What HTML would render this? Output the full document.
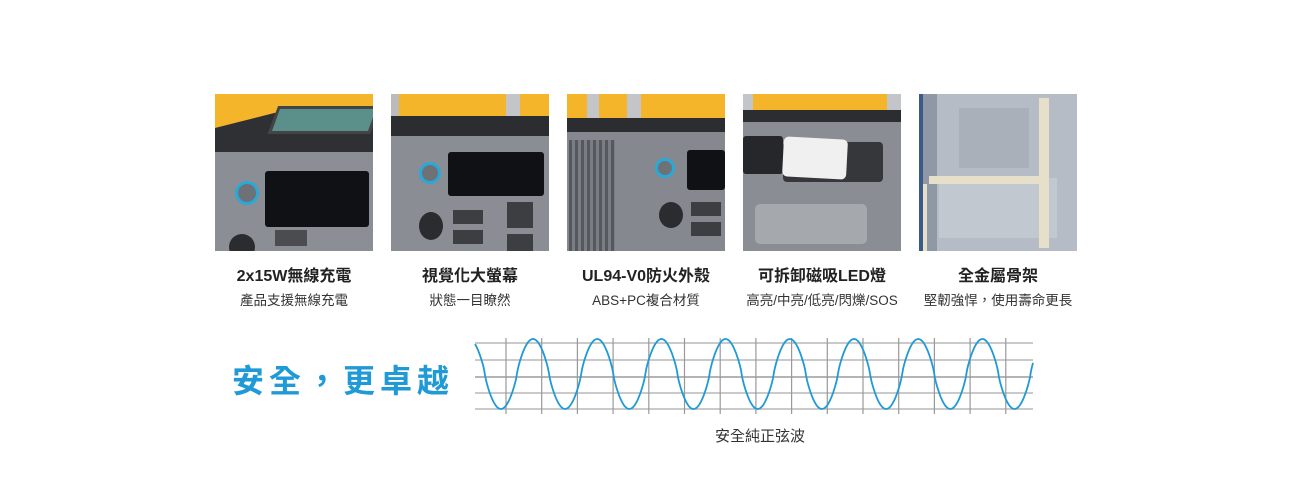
<!DOCTYPE html>
<html><head><meta charset="utf-8"><style>
body{margin:0;width:1290px;height:500px;background:#fff;position:relative;overflow:hidden;font-family:"Liberation Sans","Noto Sans CJK TC",sans-serif;}
.a{position:absolute;}
.img{position:absolute;top:94px;width:158px;height:157px;overflow:hidden;}
.t{position:absolute;width:176px;text-align:center;font-weight:bold;font-size:16px;color:#222;top:262px;}
.s{position:absolute;width:176px;text-align:center;font-size:13.5px;color:#333;top:289px;white-space:nowrap;}
</style></head><body>
<!-- image 1 -->
<div class="img" style="left:215px;background:#f5b52a">
 <div class="a" style="left:0;top:18px;width:158px;height:40px;background:#2e3033;clip-path:polygon(0 40%,40% 0,100% 0,100% 100%,0 100%)"></div>
 <div class="a" style="left:58px;top:12px;width:96px;height:22px;background:#5b8f8a;transform:skewX(-20deg);border:3px solid #444"></div>
 <div class="a" style="left:0;top:58px;width:158px;height:99px;background:#8b8e94"></div>
 <div class="a" style="left:50px;top:77px;width:104px;height:56px;background:#101114;border-radius:3px"></div>
 <div class="a" style="left:20px;top:87px;width:18px;height:18px;border-radius:50%;border:3px solid #2aa8d8;background:#6e7176"></div>
 <div class="a" style="left:14px;top:140px;width:26px;height:26px;border-radius:50%;background:#2b2c2f"></div>
 <div class="a" style="left:60px;top:136px;width:32px;height:16px;background:#4a4c50"></div>
</div>
<!-- image 2 -->
<div class="img" style="left:391px;background:#f5b52a">
 <div class="a" style="left:0;top:0;width:8px;height:30px;background:#bbb"></div>
 <div class="a" style="left:115px;top:0;width:14px;height:30px;background:#c3c5c8"></div>
 <div class="a" style="left:0;top:22px;width:158px;height:20px;background:#2b2d30"></div>
 <div class="a" style="left:0;top:42px;width:158px;height:115px;background:#8a8d93"></div>
 <div class="a" style="left:57px;top:58px;width:96px;height:44px;background:#101114;border-radius:3px"></div>
 <div class="a" style="left:28px;top:68px;width:16px;height:16px;border-radius:50%;border:3px solid #2aa8d8;background:#6e7176"></div>
 <div class="a" style="left:28px;top:118px;width:24px;height:28px;border-radius:50%;background:#2b2c2f"></div>
 <div class="a" style="left:62px;top:116px;width:30px;height:14px;background:#3c3e42"></div>
 <div class="a" style="left:62px;top:136px;width:30px;height:14px;background:#3c3e42"></div>
 <div class="a" style="left:116px;top:108px;width:26px;height:26px;background:#3c3e42"></div>
 <div class="a" style="left:116px;top:140px;width:26px;height:20px;background:#3c3e42"></div>
</div>
<!-- image 3 -->
<div class="img" style="left:567px;background:#f5b52a">
 <div class="a" style="left:20px;top:0;width:12px;height:30px;background:#c3c5c8"></div>
 <div class="a" style="left:60px;top:0;width:14px;height:30px;background:#c3c5c8"></div>
 <div class="a" style="left:0;top:24px;width:158px;height:14px;background:#2b2d30"></div>
 <div class="a" style="left:0;top:38px;width:158px;height:119px;background:#85888e"></div>
 <div class="a" style="left:2px;top:46px;width:46px;height:111px;background:repeating-linear-gradient(90deg,#55585d 0 3px,#7a7d83 3px 6px)"></div>
 <div class="a" style="left:120px;top:56px;width:38px;height:40px;background:#101114;border-radius:3px"></div>
 <div class="a" style="left:88px;top:64px;width:14px;height:14px;border-radius:50%;border:3px solid #2aa8d8;background:#6e7176"></div>
 <div class="a" style="left:92px;top:108px;width:24px;height:26px;border-radius:50%;background:#2b2c2f"></div>
 <div class="a" style="left:124px;top:108px;width:30px;height:14px;background:#3c3e42"></div>
 <div class="a" style="left:124px;top:128px;width:30px;height:14px;background:#3c3e42"></div>
</div>
<!-- image 4 -->
<div class="img" style="left:743px;background:#f5b52a">
 <div class="a" style="left:0;top:0;width:10px;height:22px;background:#c3c5c8"></div>
 <div class="a" style="left:144px;top:0;width:14px;height:22px;background:#c3c5c8"></div>
 <div class="a" style="left:0;top:16px;width:158px;height:12px;background:#2b2d30"></div>
 <div class="a" style="left:0;top:28px;width:158px;height:129px;background:#8a8d93"></div>
 <div class="a" style="left:0;top:42px;width:40px;height:38px;background:#25272a;border-radius:3px"></div>
 <div class="a" style="left:40px;top:48px;width:100px;height:40px;background:#35373b;border-radius:4px"></div>
 <div class="a" style="left:40px;top:44px;width:64px;height:40px;background:#f0f0f0;border-radius:5px;transform:rotate(3deg)"></div>
 <div class="a" style="left:12px;top:110px;width:112px;height:40px;background:#a5a8ad;border-radius:5px"></div>
</div>
<!-- image 5 -->
<div class="img" style="left:919px;background:#b5bcc6">
 <div class="a" style="left:0;top:0;width:18px;height:157px;background:#8f98a5"></div>
 <div class="a" style="left:40px;top:14px;width:70px;height:60px;background:#a9b0ba"></div>
 <div class="a" style="left:20px;top:84px;width:118px;height:60px;background:#c2c8d0"></div>
 <div class="a" style="left:120px;top:4px;width:10px;height:150px;background:#e6dfc9"></div>
 <div class="a" style="left:10px;top:82px;width:120px;height:8px;background:#e6dfc9"></div>
 <div class="a" style="left:0;top:90px;width:8px;height:67px;background:#e6dfc9"></div>
 <div class="a" style="left:0;top:0;width:4px;height:157px;background:#3a5a8a"></div>
</div>

<div class="t" style="left:206px">2x15W無線充電</div>
<div class="s" style="left:206px">產品支援無線充電</div>
<div class="t" style="left:382px">視覺化大螢幕</div>
<div class="s" style="left:382px">狀態一目瞭然</div>
<div class="t" style="left:558px">UL94-V0防火外殼</div>
<div class="s" style="left:558px">ABS+PC複合材質</div>
<div class="t" style="left:734px">可拆卸磁吸LED燈</div>
<div class="s" style="left:734px">高亮/中亮/低亮/閃爍/SOS</div>
<div class="t" style="left:910px">全金屬骨架</div>
<div class="s" style="left:910px">堅韌強悍，使用壽命更長</div>

<div class="a" style="left:232px;top:356px;font-size:32px;font-weight:bold;color:#1f9ad6;letter-spacing:5px">安全，更卓越</div>

<svg class="a" style="left:0;top:0" width="1290" height="500">
<g stroke="#aaa" stroke-width="1.3">
<line x1="475" y1="343" x2="1033" y2="343"/><line x1="475" y1="360" x2="1033" y2="360"/>
<line x1="475" y1="377" x2="1033" y2="377" stroke="#888"/><line x1="475" y1="393" x2="1033" y2="393"/>
<line x1="475" y1="409" x2="1033" y2="409"/>
</g>
<g stroke="#999" stroke-width="1.2" id="v"></g>
<path id="w" fill="none" stroke="#1f9ad6" stroke-width="1.8"/>
<text x="760" y="441" font-size="15" text-anchor="middle" fill="#333" font-family="Liberation Sans,Noto Sans CJK TC,sans-serif">安全純正弦波</text>
</svg>
<script>
var g=document.getElementById('v'),s='';
for(var k=0;k<15;k++){var x=506+35.7*k;if(x>1033)break;s+='<line x1="'+x+'" y1="338" x2="'+x+'" y2="414"/>';}
g.innerHTML=s;
var d='';for(var x=475;x<=1033;x+=1){var c=Math.cos((x-533)/64.2*2*Math.PI);var y=374-35*Math.sign(c)*Math.pow(Math.abs(c),0.8);d+=(x==475?'M':'L')+x+' '+y.toFixed(1);}
document.getElementById('w').setAttribute('d',d);
</script>
</body></html>
